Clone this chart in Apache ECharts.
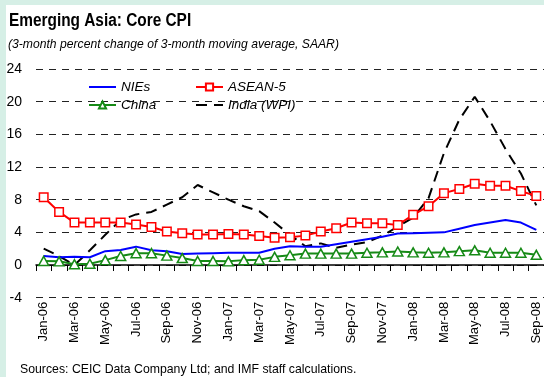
<!DOCTYPE html>
<html>
<head>
<meta charset="utf-8">
<script src="https://cdn.jsdelivr.net/npm/echarts@6/dist/echarts.min.js"></script>
<style>
  html, body { margin: 0; padding: 0; background: #d6efe6; }
  #chart { width: 544px; height: 377px; }
</style>
</head>
<body>
<div id="chart"></div>
<script>
// Monthly observations, Jan-06 to Sep-08
const months = [
  'Jan-06','Feb-06','Mar-06','Apr-06','May-06','Jun-06','Jul-06','Aug-06','Sep-06','Oct-06','Nov-06','Dec-06',
  'Jan-07','Feb-07','Mar-07','Apr-07','May-07','Jun-07','Jul-07','Aug-07','Sep-07','Oct-07','Nov-07','Dec-07',
  'Jan-08','Feb-08','Mar-08','Apr-08','May-08','Jun-08','Jul-08','Aug-08','Sep-08'
];
const nies = [1.1, 0.95, 1.0, 0.95, 1.7, 1.85, 2.25, 1.8, 1.7, 1.35, 1.4, 1.45, 1.5, 1.5, 1.5, 2.0, 2.3,
  2.25, 2.25, 2.55, 2.85, 3.15, 3.45, 3.85, 3.9, 3.95, 4.0, 4.45, 4.9, 5.2, 5.5, 5.2, 4.3];
const asean5 = [8.3, 6.5, 5.2, 5.2, 5.2, 5.2, 4.95, 4.65, 4.1, 3.9, 3.75, 3.75, 3.8, 3.75, 3.55, 3.35, 3.4,
  3.6, 4.1, 4.5, 5.2, 5.1, 5.1, 4.9, 6.15, 7.2, 8.8, 9.3, 9.95, 9.7, 9.7, 9.05, 8.45];
const china = [0.5, 0.45, 0.1, 0.15, 0.6, 1.1, 1.45, 1.45, 1.15, 0.85, 0.5, 0.5, 0.45, 0.6, 0.65, 1.0, 1.2,
  1.4, 1.4, 1.4, 1.4, 1.5, 1.55, 1.65, 1.55, 1.5, 1.55, 1.7, 1.8, 1.5, 1.5, 1.5, 1.25];
const indiaWpi = [2.0, 1.1, 0.0, 1.8, 3.7, 5.5, 6.2, 6.5, 7.4, 8.3, 9.8, 8.9, 8.0, 7.2, 6.6, 5.2, 3.7,
  2.3, 2.65, 2.1, 2.5, 2.8, 3.6, 4.7, 5.8, 8.2, 13.7, 17.8, 20.6, 17.6, 14.2, 11.2, 7.3];
const yTicks = { min: -4, max: 24, step: 4 };

const FONT = '"Liberation Sans", Arial, sans-serif';

const chart = echarts.init(document.getElementById('chart'), null, { renderer: 'canvas' });

// One legend block per series so the two-column layout can be placed freely
function legendAt(name, left, top, hideSymbol) {
  const lg = {
    data: [name], left: left, top: top, padding: 0,
    itemWidth: 27, itemHeight: 9, itemGap: 0,
    textStyle: { fontFamily: FONT, fontStyle: 'italic', fontSize: 13.5, color: '#000' },
    selectedMode: false
  };
  if (hideSymbol) lg.itemStyle = { opacity: 0 };
  return lg;
}

chart.setOption({
  backgroundColor: '#d6efe6',
  animation: false,
  graphic: [
    { type: 'rect', z: -10, shape: { x: 6, y: 5, width: 540, height: 375 }, style: { fill: '#ffffff' }, silent: true },
    { type: 'text', x: 9, y: 12, scaleX: 0.855, style: { text: 'Emerging Asia: Core CPI', font: 'bold 18px ' + FONT, fill: '#000' } },
    { type: 'text', x: 8, y: 37, scaleX: 0.9, style: { text: '(3-month percent change of 3-month moving average, SAAR)', font: 'italic 13.5px ' + FONT, fill: '#000' } },
    { type: 'text', x: 20, y: 362, scaleX: 0.91, style: { text: 'Sources: CEIC Data Company Ltd; and IMF staff calculations.', font: '13.5px ' + FONT, fill: '#000' } }
  ],
  legend: [
    legendAt('NIEs', 88, 80, true),
    legendAt('ASEAN-5', 195, 80, false),
    legendAt('China', 88, 98, false),
    legendAt('India (WPI)', 195, 98, true)
  ],
  grid: { left: 36, top: 69, width: 513.5, bottom: 79.3, containLabel: false },
  xAxis: [
    {
      type: 'category', data: months, boundaryGap: true,
      axisLine: { onZero: true, lineStyle: { color: '#000', width: 1.5 } },
      axisTick: { show: true, interval: 0, length: 6, lineStyle: { color: '#000', width: 1 } },
      axisLabel: { show: false },
      splitLine: { show: false }
    },
    {
      type: 'category', data: months, boundaryGap: true, position: 'bottom',
      axisLine: { show: false, onZero: false },
      axisTick: { show: false },
      axisLabel: { show: true, interval: 1, rotate: 90, margin: 4, fontFamily: FONT, fontSize: 13, color: '#000' },
      splitLine: { show: false }
    }
  ],
  yAxis: {
    type: 'value', min: yTicks.min, max: yTicks.max, interval: yTicks.step,
    axisLine: { show: false }, axisTick: { show: false },
    axisLabel: { margin: 14, fontFamily: FONT, fontSize: 14, color: '#000' },
    splitLine: { show: true, lineStyle: { color: '#222', width: 1, type: [7, 6] } }
  },
  series: [
    {
      name: 'NIEs', type: 'line', data: nies, xAxisIndex: 0,
      symbol: 'none', lineStyle: { color: '#0000ff', width: 2 }, itemStyle: { color: '#0000ff' }, z: 3
    },
    {
      name: 'ASEAN-5', type: 'line', data: asean5, xAxisIndex: 0,
      symbol: 'rect', symbolSize: 8.5, showAllSymbol: true,
      lineStyle: { color: '#ff0000', width: 2 },
      itemStyle: { color: '#ffffff', borderColor: '#ff0000', borderWidth: 1.5 }, z: 4
    },
    {
      name: 'China', type: 'line', data: china, xAxisIndex: 0,
      symbol: 'triangle', symbolSize: [10, 9], showAllSymbol: true,
      lineStyle: { color: '#168a16', width: 2 },
      itemStyle: { color: '#ffffff', borderColor: '#168a16', borderWidth: 1.5 }, z: 5
    },
    {
      name: 'India (WPI)', type: 'line', data: indiaWpi, xAxisIndex: 0,
      symbol: 'none', lineStyle: { color: '#000000', width: 2, type: [11, 7] }, itemStyle: { color: '#000' }, z: 2
    }
  ]
});
</script>
</body>
</html>
